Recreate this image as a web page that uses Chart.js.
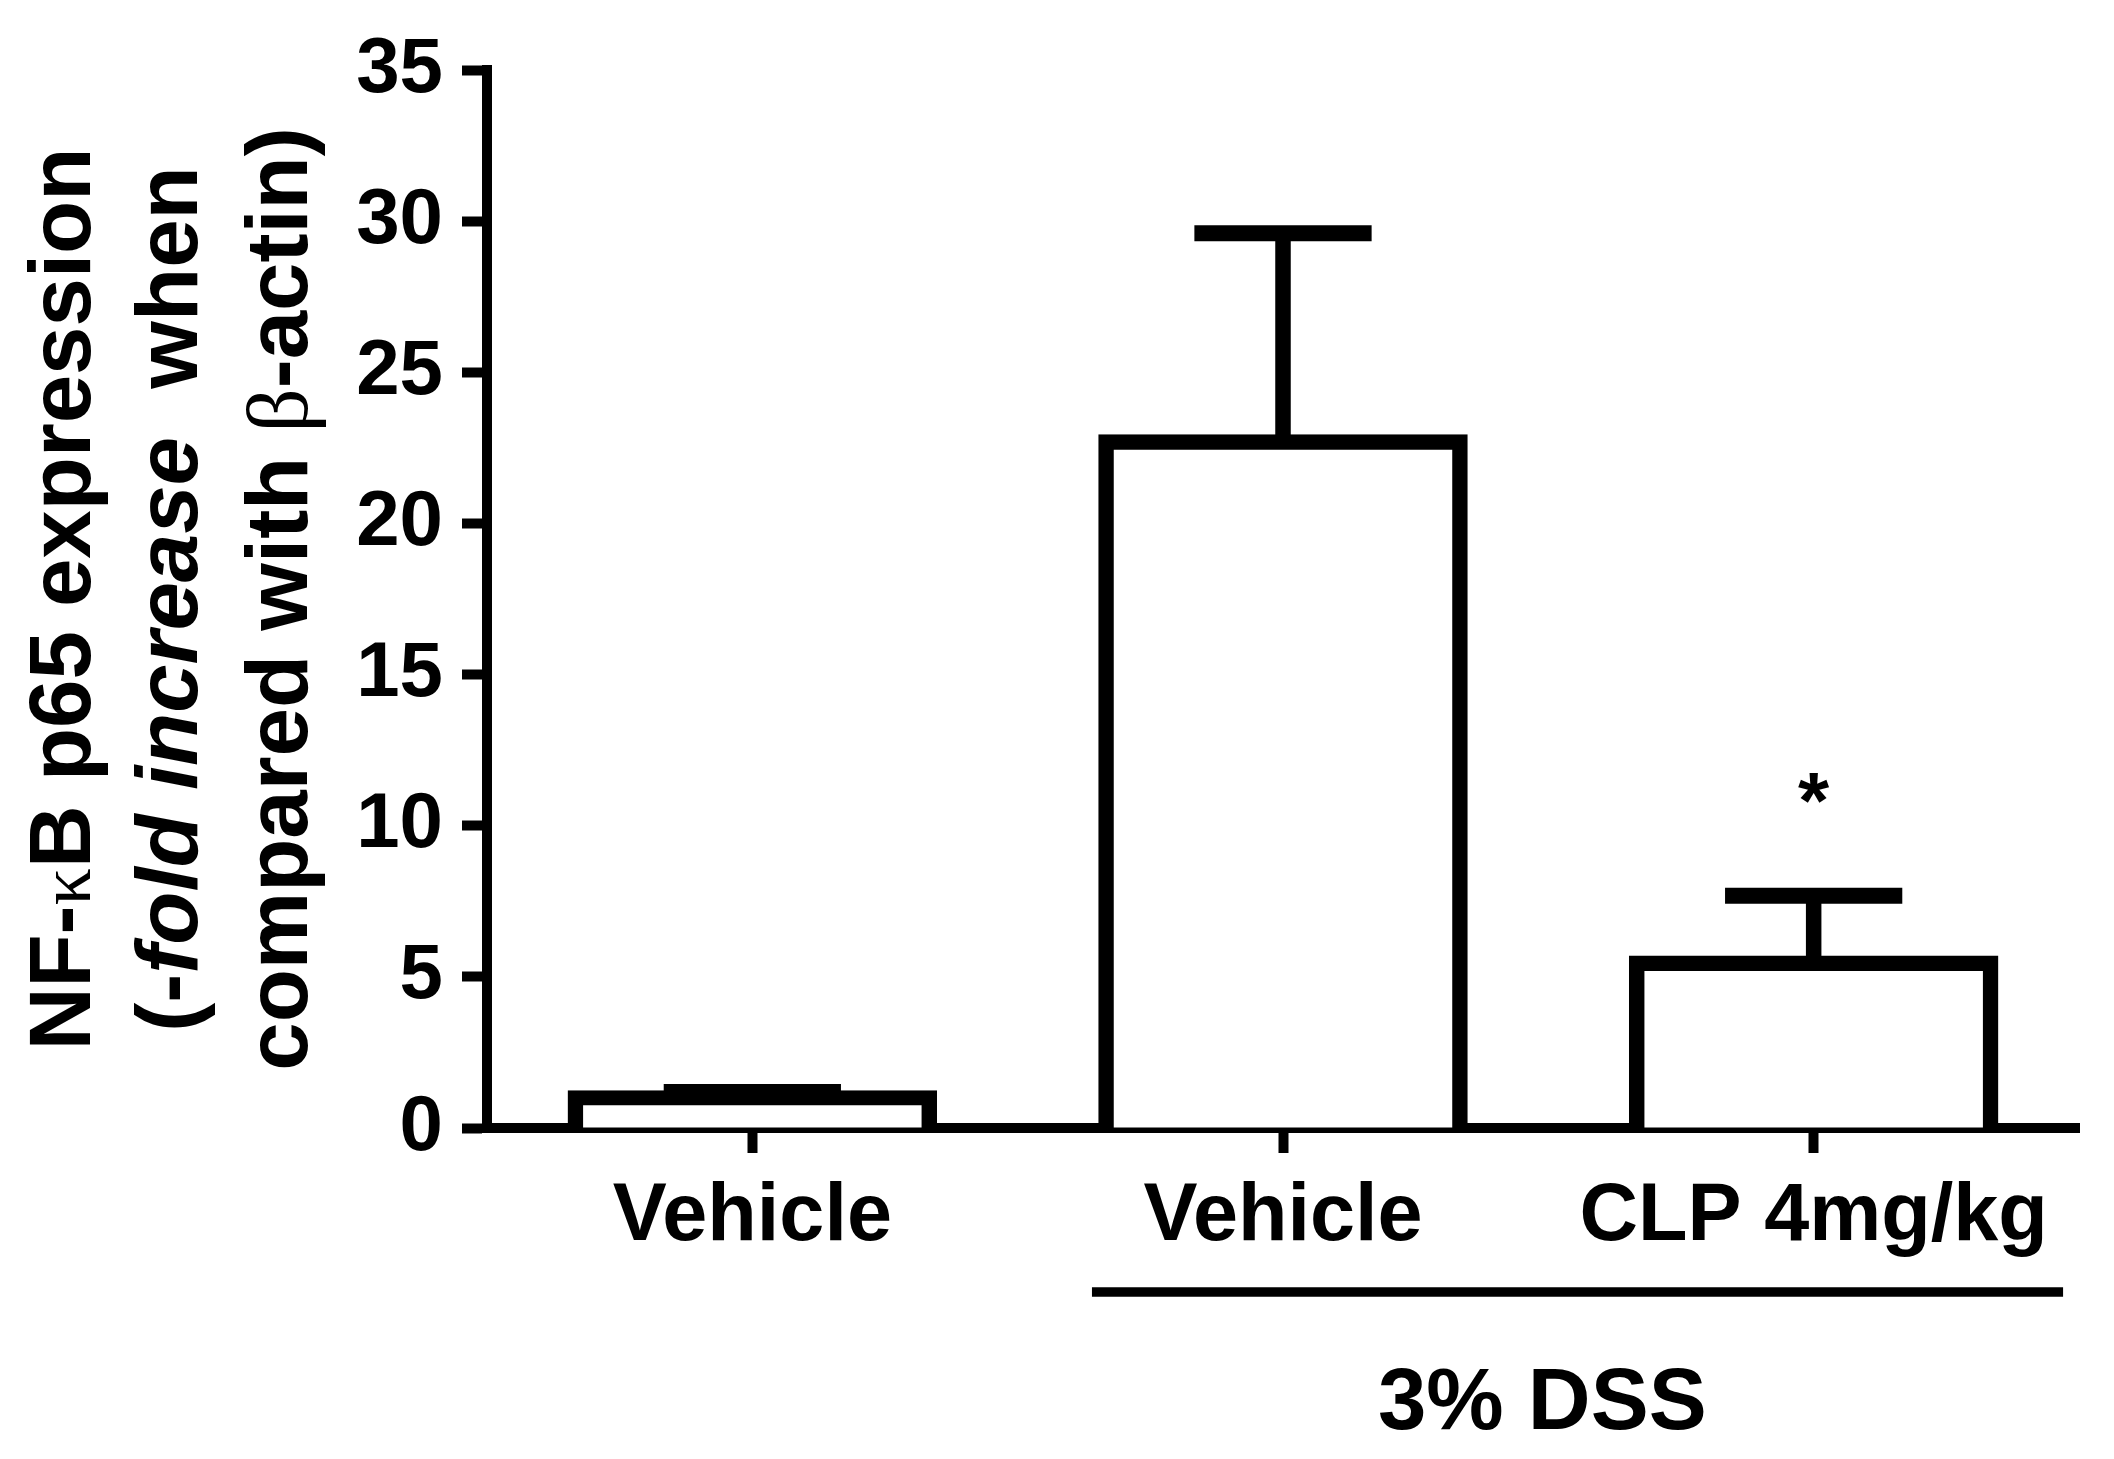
<!DOCTYPE html>
<html>
<head>
<meta charset="utf-8">
<script src="https://cdn.jsdelivr.net/npm/chart.js@4.4.1/dist/chart.umd.min.js"></script>
<style>
  html, body { margin: 0; padding: 0; background: #fff; }
  canvas { display: block; }
</style>
</head>
<body>
<canvas id="nfkbChart" width="2114" height="1459"></canvas>
<script>
// values (fold increase vs beta-actin, mean + SEM)
const groups = ['Vehicle', 'Vehicle', 'CLP 4mg/kg'];
const meanValues = [1.0, 22.7, 5.46];
const semValues = [0.19, 6.9, 2.22];
const sigMarks = ['', '', '*'];
const yMin = 0;
const yMax = 35;
const yStep = 5;
const groupLabel = '3% DSS';
const groupRange = [1, 2]; // indexes of the groups under the 3% DSS bracket

const FONT = '"Liberation Sans", Arial, Helvetica, sans-serif';
const SERIF = '"Liberation Serif", "Times New Roman", serif';

// y axis title, three rotated lines with mixed styles
const titleLines = [
    [{ t: 'NF-', s: 'bold' }, { t: '\u03BA', s: 'normal', serif: true, scale: 0.85 }, { t: 'B p65 expression', s: 'bold' }],
    [{ t: '(-', s: 'bold' }, { t: 'fold increase', s: 'italic bold' }, { t: '  when', s: 'bold' }],
    [{ t: 'compared with ', s: 'bold' }, { t: '\u03B2', s: 'normal', serif: true }, { t: '-actin)', s: 'bold' }]
];

function segFont(seg, size) {
    const sz = Math.round(size * (seg.scale || 1));
    return seg.s + ' ' + sz + 'px ' + (seg.serif ? SERIF : FONT);
}

function drawRotatedLine(ctx, segs, cx, cy, size) {
    let total = 0;
    segs.forEach(seg => {
        ctx.font = segFont(seg, size);
        seg.w = ctx.measureText(seg.t).width;
        total += seg.w;
    });
    ctx.save();
    ctx.translate(cx, cy);
    ctx.rotate(-Math.PI / 2);
    ctx.textAlign = 'left';
    ctx.textBaseline = 'alphabetic';
    ctx.fillStyle = '#000';
    let x = -total / 2;
    segs.forEach(seg => {
        ctx.font = segFont(seg, size);
        ctx.fillText(seg.t, x, 0);
        x += seg.w;
    });
    ctx.restore();
}

// error bars (upper half only, the bar hides the lower half)
const errorBarPlugin = {
    id: 'errorBars',
    afterDatasetsDraw(chart) {
        const ctx = chart.ctx;
        const yScale = chart.scales.y;
        const meta = chart.getDatasetMeta(0);
        ctx.save();
        ctx.strokeStyle = '#000';
        ctx.lineCap = 'butt';
        meta.data.forEach((bar, i) => {
            const top = yScale.getPixelForValue(meanValues[i] + semValues[i]);
            const half = bar.width * 0.25;
            ctx.lineWidth = 15.5;
            ctx.beginPath();
            ctx.moveTo(bar.x, bar.y);
            ctx.lineTo(bar.x, top);
            ctx.stroke();
            ctx.lineWidth = 16;
            ctx.beginPath();
            ctx.moveTo(bar.x - half, top);
            ctx.lineTo(bar.x + half, top);
            ctx.stroke();
            if (sigMarks[i]) {
                ctx.font = 'bold 80px ' + FONT;
                ctx.textAlign = 'center';
                ctx.textBaseline = 'alphabetic';
                ctx.fillStyle = '#000';
                ctx.fillText(sigMarks[i], bar.x, top - 68);
            }
        });
        ctx.restore();
    }
};

// axis title and the 3% DSS bracket
const annotationPlugin = {
    id: 'annotations',
    afterDraw(chart) {
        const ctx = chart.ctx;
        const area = chart.chartArea;
        const xScale = chart.scales.x;
        const cy = (area.top + area.bottom) / 2;
        drawRotatedLine(ctx, titleLines[0], 90, cy, 87);
        drawRotatedLine(ctx, titleLines[1], 197, cy, 87);
        drawRotatedLine(ctx, titleLines[2], 307, cy, 87);

        const catW = (area.right - area.left) / groups.length;
        const x1 = xScale.getPixelForValue(groupRange[0]);
        const x2 = xScale.getPixelForValue(groupRange[1]);
        ctx.save();
        ctx.strokeStyle = '#000';
        ctx.lineWidth = 9.5;
        ctx.beginPath();
        ctx.moveTo(x1 - 0.36 * catW, area.bottom + 164);
        ctx.lineTo(x2 + 0.47 * catW, area.bottom + 164);
        ctx.stroke();
        ctx.font = 'bold 87px ' + FONT;
        ctx.fillStyle = '#000';
        ctx.textAlign = 'center';
        ctx.textBaseline = 'alphabetic';
        ctx.fillText(groupLabel, (x1 + x2) / 2 - 6, area.bottom + 301);
        ctx.restore();
    }
};

const data = {
    labels: groups,
    datasets: [{
        data: meanValues,
        backgroundColor: '#fff',
        borderColor: '#000',
        borderWidth: 15.5,
        borderSkipped: 'start',
        inflateAmount: 7.5,
        categoryPercentage: 1.0,
        barPercentage: 0.668
    }]
};

const config = {
    type: 'bar',
    data: data,
    options: {
        responsive: false,
        animation: false,
        devicePixelRatio: 1,
        layout: { padding: { top: 70, right: 35, bottom: 0, left: 0 } },
        plugins: {
            legend: { display: false },
            tooltip: { enabled: false }
        },
        scales: {
            x: {
                z: 1,
                offset: true,
                grid: {
                    display: true,
                    drawOnChartArea: false,
                    drawTicks: true,
                    offset: false,
                    tickLength: 25,
                    tickWidth: 10,
                    tickColor: '#000'
                },
                border: { display: true, color: '#000', width: 10 },
                ticks: {
                    color: '#000',
                    font: { family: FONT, size: 81, weight: 'bold' },
                    padding: 16,
                    maxRotation: 0,
                    autoSkip: false
                },
                afterFit: scale => { scale.height = 331; }
            },
            y: {
                z: 1,
                min: yMin,
                max: yMax,
                grid: {
                    display: true,
                    drawOnChartArea: false,
                    drawTicks: true,
                    tickLength: 25,
                    tickWidth: 10,
                    tickColor: '#000'
                },
                border: { display: true, color: '#000', width: 10 },
                ticks: {
                    stepSize: yStep,
                    color: '#000',
                    font: { family: FONT, size: 78, weight: 'bold' },
                    padding: 19,
                    autoSkip: false
                },
                afterFit: scale => { scale.width = 487; }
            }
        }
    },
    plugins: [errorBarPlugin, annotationPlugin]
};

const ctx = document.getElementById('nfkbChart').getContext('2d');
new Chart(ctx, config);
</script>
</body>
</html>
